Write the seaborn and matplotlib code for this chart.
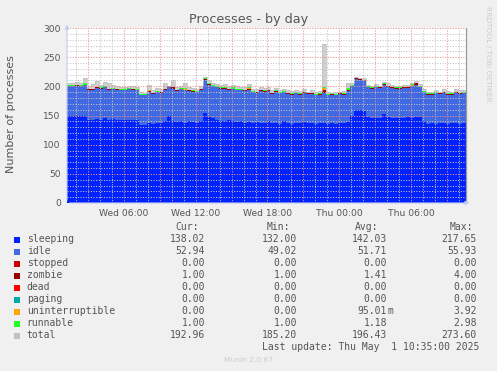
import numpy as np
import pandas as pd
import matplotlib
matplotlib.use("Agg")
import matplotlib.pyplot as plt
import matplotlib.dates as mdates
from matplotlib.patches import Rectangle
from matplotlib.ticker import MultipleLocator, FuncFormatter
import seaborn as sns

# --- data (20 min bins) ---
sleeping = [149, 150, 149, 149, 150, 143, 142, 144, 143, 145, 142, 144, 142, 143, 142, 143, 142, 143, 134, 133, 137, 136, 138, 137, 140,
            150, 140, 139, 141, 138, 140, 139, 137, 140, 155, 148, 146, 143, 141, 141, 142, 140, 139, 141, 138, 139, 137, 139, 138, 137,
            140, 137, 138, 136, 141, 137, 136, 138, 137, 139, 138, 137, 136, 137, 137, 136, 137, 136, 138, 137, 139, 150, 160, 160, 158,
            147, 146, 145, 146, 152, 148, 146, 145, 146, 145, 147, 146, 148, 147, 140, 136, 137, 136, 137, 138, 136, 137, 138, 136, 138]
idle = [51, 50, 52, 51, 52, 51, 52, 53, 52, 53, 52, 51, 52, 50, 51, 52, 52, 50, 51, 52, 53, 51, 52, 52, 54,
        49, 55, 53, 54, 55, 52, 52, 53, 54, 56, 55, 54, 55, 55, 55, 52, 55, 54, 52, 54, 55, 53, 50, 54, 54,
        52, 50, 53, 52, 49, 50, 50, 50, 49, 50, 49, 50, 49, 49, 52, 49, 49, 49, 49, 49, 53, 50, 52, 51, 51,
        51, 50, 53, 51, 51, 51, 51, 51, 50, 52, 50, 54, 55, 51, 50, 50, 49, 52, 50, 51, 50, 49, 51, 51, 50]
stopped = [0] * 100
zombie = [1, 1, 1, 1, 1, 1, 1, 1, 2, 1, 1, 1, 1, 1, 1, 1, 1, 1, 1, 1, 2, 1, 1, 1, 1,
          1, 3, 1, 1, 1, 1, 1, 1, 1, 2, 1, 1, 1, 1, 1, 1, 1, 1, 1, 1, 2, 1, 1, 1, 1,
          1, 1, 1, 1, 1, 1, 1, 1, 1, 1, 1, 1, 1, 1, 4, 1, 1, 1, 1, 1, 1, 1, 2, 1, 1,
          1, 1, 1, 1, 1, 1, 1, 1, 1, 1, 1, 1, 2, 1, 1, 1, 1, 1, 1, 1, 1, 1, 1, 1, 1]
dead = [0] * 100
paging = [0] * 100
uninterruptible = [0, 0, 0, 0, 0, 0, 0, 0, 0, 0, 0, 0, 0, 0, 0, 0, 0, 0, 0, 0, 1, 0, 0, 0, 0,
                   0, 0, 0, 0, 1, 0, 0, 0, 0, 0, 0, 0, 0, 0, 0, 0, 0, 0, 0, 0, 1, 0, 0, 0, 0,
                   0, 0, 0, 0, 0, 0, 0, 0, 0, 0, 0, 0, 0, 0, 4, 0, 0, 0, 0, 0, 1, 0, 0, 0, 0,
                   0, 0, 0, 0, 0, 0, 0, 0, 0, 0, 0, 1, 0, 0, 0, 0, 0, 0, 0, 0, 0, 0, 0, 0, 0]
runnable = [1, 1, 1, 1, 2, 1, 1, 1, 1, 2, 1, 1, 1, 1, 1, 1, 1, 1, 1, 1, 1, 1, 1, 1, 1,
            1, 1, 1, 1, 2, 1, 1, 1, 1, 1, 1, 1, 1, 1, 1, 1, 2, 1, 1, 1, 1, 1, 1, 1, 1,
            1, 1, 1, 1, 1, 1, 1, 1, 1, 1, 1, 1, 1, 1, 1, 1, 1, 1, 1, 1, 3, 1, 1, 1, 1,
            1, 1, 1, 1, 2, 1, 1, 1, 1, 1, 1, 2, 1, 1, 1, 1, 1, 1, 1, 1, 1, 1, 1, 1, 1]
total = [206, 205, 207, 206, 214, 200, 204, 209, 203, 208, 205, 203, 200, 198, 199, 201, 200, 199, 190, 189, 203, 193, 197, 195, 205,
         201, 211, 198, 201, 205, 198, 197, 196, 200, 216, 211, 206, 204, 202, 204, 200, 203, 201, 199, 198, 204, 196, 195, 199, 197,
         198, 193, 197, 194, 196, 193, 192, 194, 192, 195, 191, 193, 191, 192, 273, 190, 189, 190, 191, 192, 206, 205, 216, 215, 214,
         203, 200, 204, 201, 207, 205, 202, 201, 200, 203, 202, 206, 209, 204, 195, 191, 190, 194, 191, 195, 192, 191, 195, 193, 194]

names = ["sleeping", "idle", "stopped", "zombie", "dead", "paging", "uninterruptible", "runnable", "total"]
colors = ["#0022ff", "#4169e1", "#cc0000", "#990000", "#ff0000", "#00aaaa", "#ffa500", "#22ff22", "#c0c0c0"]
cur_vals = [138.02, 52.94, 0.0, 1.0, 0.0, 0.0, 0.0, 1.0, 192.96]
min_vals = [132.00, 49.02, 0.0, 1.0, 0.0, 0.0, 0.0, 1.0, 185.20]
avg_vals = [142.03, 51.71, 0.0, 1.41, 0.0, 0.0, 0.09501, 1.18, 196.43]
max_vals = [217.65, 55.93, 0.0, 4.0, 0.0, 0.0, 3.92, 2.98, 273.60]

W, H = 497, 371
TXT = "#555555"

sns.set_style("white")
plt.rcParams['font.family'] = ['DejaVu Sans']

edges = pd.date_range("2025-04-30 01:15", periods=101, freq="20min")
xe = mdates.date2num(edges)
centers = xe[:-1] + (xe[1] - xe[0]) / 2

fig = plt.figure(figsize=(W / 100, H / 100), dpi=100, facecolor="#f0f0f0")
ax = fig.add_axes([67 / W, 1 - 203 / H, 399 / W, 175 / H])
ax.set_facecolor("white")

# stacked areas
series = [sleeping, idle, stopped, zombie, dead, paging, uninterruptible, runnable]
bottom = np.zeros(len(sleeping))
for vals, col in zip(series, colors[:-1]):
    v = np.asarray(vals, float)
    if v.any():
        ax.stairs(bottom + v, xe, baseline=bottom, fill=True, color=col, lw=0)
    bottom = bottom + v

# total on top
ax.stairs(np.asarray(total, float), xe, baseline=bottom, fill=True, color="#cfcfcf", lw=0)
df = pd.DataFrame({"t": centers, "total": total})
sns.lineplot(data=df, x="t", y="total", ax=ax, drawstyle="steps-mid", color="#bdbdbd", lw=0.5, legend=False)
ax.set_xlabel("")
ax.set_ylabel("")

ax.set_xlim(xe[0], xe[-1])
ax.set_ylim(0, 300)

ax.xaxis.set_major_locator(mdates.HourLocator(byhour=range(0, 24, 3)))
ax.xaxis.set_minor_locator(mdates.HourLocator())
ax.xaxis.set_major_formatter(FuncFormatter(
    lambda v, p: mdates.num2date(v).strftime("%a %H:%M") if mdates.num2date(v).hour % 6 == 0 else ""))
ax.yaxis.set_major_locator(MultipleLocator(50))
ax.yaxis.set_minor_locator(MultipleLocator(10))

ax.set_axisbelow(False)
ax.grid(which="major", color="#f09090", ls=(0, (1, 1.5)), lw=0.75)
ax.grid(which="minor", color="#c4c4c4", ls=(0, (1, 1.5)), lw=0.75)
ax.tick_params(which="major", length=2, color="#f08080", labelsize=6.6, labelcolor=TXT, pad=2.5)
ax.tick_params(which="minor", length=1.2, color="#cccccc")
ax.tick_params(axis="x", which="minor", length=0)

for s in ax.spines.values():
    s.set_visible(False)
ax.axvline(xe[-1], color="#999999", lw=0.9, clip_on=False, zorder=3)
ax.annotate("", xy=(0, 1.035), xytext=(0, 0), xycoords="axes fraction",
            arrowprops=dict(arrowstyle="-|>", color="#c4ccf2", lw=0.8, mutation_scale=6))
ax.annotate("", xy=(1.016, 0), xytext=(0, 0), xycoords="axes fraction",
            arrowprops=dict(arrowstyle="-|>", color="#c4ccf2", lw=0.8, mutation_scale=6))

# titles
fig.text(249 / W, 1 - 19 / H, "Processes - by day", ha="center", va="center", fontsize=9.2, color=TXT)
fig.text(11 / W, 1 - 114 / H, "Number of processes", rotation=90, ha="center", va="center", fontsize=8, color=TXT)
fig.text(488 / W, 1 - 54 / H, "RRDTOOL / TOBI OETIKER", rotation=270, ha="center", va="center",
         fontsize=5.4, color="#cccccc")
fig.text(248 / W, 1 - 360 / H, "Munin 2.0.67", ha="center", va="center", fontsize=5.4, color="#cccccc")

# legend table
mono = dict(family="DejaVu Sans Mono", fontsize=7, color=TXT, va="center")


def px(x, y):
    return x / W, 1 - y / H


for hdr, xend in zip(["Cur:", "Min:", "Avg:", "Max:"], [199.3, 290, 378.3, 473.3]):
    fig.text(*px(xend, 227), hdr, ha="right", **mono)

col_ends = [205, 297, 387, 477]
for k, name in enumerate(names):
    y = 239.5 + 12 * k
    fig.add_artist(Rectangle(px(14, y + 3), 6 / W, 6 / H, transform=fig.transFigure,
                             facecolor=colors[k], edgecolor="none"))
    fig.text(*px(26.7, y), name, ha="left", **mono)
    for vals, xend in zip([cur_vals, min_vals, avg_vals, max_vals], col_ends):
        v = vals[k]
        if 0 < v < 1:
            fig.text(*px(xend, y), f"{v * 1000:.2f}", ha="right", **mono)
            fig.text(*px(xend, y), "m", ha="left", **mono)
        else:
            fig.text(*px(xend, y), f"{v:.2f}", ha="right", **mono)

fig.text(*px(262, 347.5), "Last update: Thu May  1 10:35:00 2025", ha="left", **mono)

fig.savefig("out.png", dpi=100, facecolor=fig.get_facecolor())
